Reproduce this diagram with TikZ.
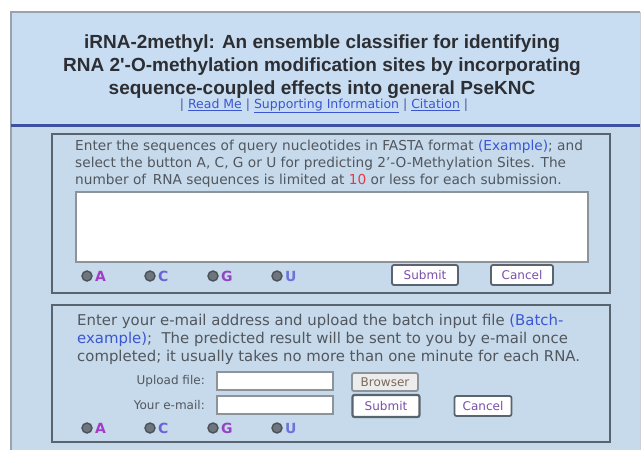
\documentclass[tikz,border=0pt]{standalone}
\usepackage{fontspec}
\setmainfont{DejaVu Sans}
\newfontfamily\headfont{Liberation Sans}

% palette of the web form
\definecolor{headbg}{HTML}{C8DDF1}
\definecolor{panelbg}{HTML}{C6DAEB}
\definecolor{rulebl}{HTML}{3E50A2}
\definecolor{outerline}{HTML}{9AA3AC}
\definecolor{framegray}{HTML}{5A646E}
\definecolor{fieldgray}{HTML}{8C9399}
\definecolor{titletxt}{HTML}{2C2E33}
\definecolor{bodytxt}{HTML}{52565D}
\definecolor{linkbl}{HTML}{3B56D2}
\definecolor{redtxt}{HTML}{E23A44}
\definecolor{btntxt}{HTML}{7A4FA8}
\definecolor{browsetxt}{HTML}{7A6A5C}
\definecolor{radiofill}{HTML}{6E757D}
\definecolor{radioline}{HTML}{4A5158}
\definecolor{letA}{HTML}{A23CC6}
\definecolor{letC}{HTML}{6A62D6}
\definecolor{letG}{HTML}{9344C2}
\definecolor{letU}{HTML}{6C74D8}

\tikzset{
  titleline/.style={inner sep=0, font=\headfont\bfseries\fontsize{19}{23}\selectfont, text=titletxt},
  bodyline/.style={anchor=base west, inner sep=0, font=\fontsize{13.7}{16}\selectfont, text=bodytxt},
  bodylinetwo/.style={anchor=base west, inner sep=0, font=\fontsize{14.9}{17}\selectfont, text=bodytxt},
  formbox/.style={draw=framegray, line width=2pt, fill=panelbg},
  field/.style={draw=fieldgray, line width=1.5pt, fill=white, inner sep=0},
  btn/.style={draw=framegray, line width=1.8pt, fill=white, rounded corners=2pt, inner sep=0,
    font=\fontsize{12}{14}\selectfont, text=btntxt},
  radio/.style={circle, draw=radioline, fill=radiofill, line width=1.4pt, minimum size=10pt, inner sep=0},
  radiolabel/.style={anchor=west, inner sep=0, font=\bfseries\fontsize{14}{16}\selectfont},
  fieldlabel/.style={anchor=east, inner sep=0, font=\fontsize{12}{14}\selectfont, text=bodytxt},
}
\newcommand{\lnk}[1]{\textcolor{linkbl}{\underline{#1}}}

\begin{document}
\begin{tikzpicture}[x=1pt, y=-1pt]
  \useasboundingbox (0,0) rectangle (642,450);
  \fill[white] (0,0) rectangle (642,450);

  % outer page panel: header and body
  \fill[headbg] (11,12) rectangle (640,125);
  \fill[panelbg] (11,125) rectangle (640,450);
  \draw[outerline, line width=2pt] (11,450) -- (11,12) -- (640,12);
  \draw[outerline!50, line width=1pt] (640,12) -- (640,450);
  \draw[rulebl, line width=3pt] (11,125) -- (640,125);

  % title block
  \node[titleline] (t1) at (322,44) {iRNA-2methyl: An ensemble classifier for identifying};
  \node[titleline] (t2) at (322,67) {RNA 2'-O-methylation modification sites by incorporating};
  \node[titleline] (t3) at (322,90) {sequence-coupled effects into general PseKNC};
  \node[inner sep=0, font=\fontsize{12.5}{14}\selectfont, text=linkbl!60!bodytxt] (links) at (324,106)
    {| \lnk{Read Me} | \lnk{Supporting Information} | \lnk{Citation} |};

  % first form: paste sequences
  \draw[formbox] (52,134) rectangle (610,293);
  \node[bodyline] (p1) at (75,150) {Enter the sequences of query nucleotides in FASTA format \textcolor{linkbl}{(Example)}; and};
  \node[bodyline] (p2) at (75,167) {select the button A, C, G or U for predicting 2'-O-Methylation Sites. The};
  \node[bodyline] (p3) at (75,184) {number of\, RNA sequences is limited at \textcolor{redtxt}{10} or less for each submission.};
  \node[field, minimum width=512pt, minimum height=70pt] (seqarea) at (332,227) {};
  \node[btn, minimum width=66pt, minimum height=20pt] (submit1) at (425,275) {Submit};
  \node[btn, minimum width=62pt, minimum height=20pt] (cancel1) at (522,275) {Cancel};

  % second form: batch upload by e-mail
  \draw[formbox] (52,305) rectangle (610,442);
  \node[bodylinetwo] (q1) at (77,325) {Enter your e-mail address and upload the batch input file \textcolor{linkbl}{(Batch-}};
  \node[bodylinetwo] (q2) at (77,343) {\textcolor{linkbl}{example)};\ \ The predicted result will be sent to you by e-mail once};
  \node[bodylinetwo] (q3) at (77,361) {completed; it usually takes no more than one minute for each RNA.};
  \node[fieldlabel] (uplabel) at (205,381) {Upload file:};
  \node[field, minimum width=116pt, minimum height=18pt] (upfield) at (275,381) {};
  \node[btn, draw=fieldgray, fill=white!85!gray, minimum width=66pt, minimum height=18pt, text=browsetxt] (browse) at (385,382) {Browser};
  \node[fieldlabel] (maillabel) at (205,405) {Your e-mail:};
  \node[field, minimum width=116pt, minimum height=18pt] (mailfield) at (275,405) {};
  \node[btn, line width=2.2pt, minimum width=67pt, minimum height=22pt] (submit2) at (386,406) {Submit};
  \node[btn, minimum width=57pt, minimum height=20pt] (cancel2) at (483,406) {Cancel};

  % nucleotide radio buttons of both forms
  \foreach \row/\y in {a/276, b/428} {
    \foreach \n/\x/\c in {A/87/letA, C/150/letC, G/213/letG, U/277/letU} {
      \node[radio] (rad\row\n) at (\x,\y) {};
      \node[radiolabel, text=\c] (lab\row\n) at (\x+8,\y) {\n};
    }
  }
\end{tikzpicture}
\end{document}
